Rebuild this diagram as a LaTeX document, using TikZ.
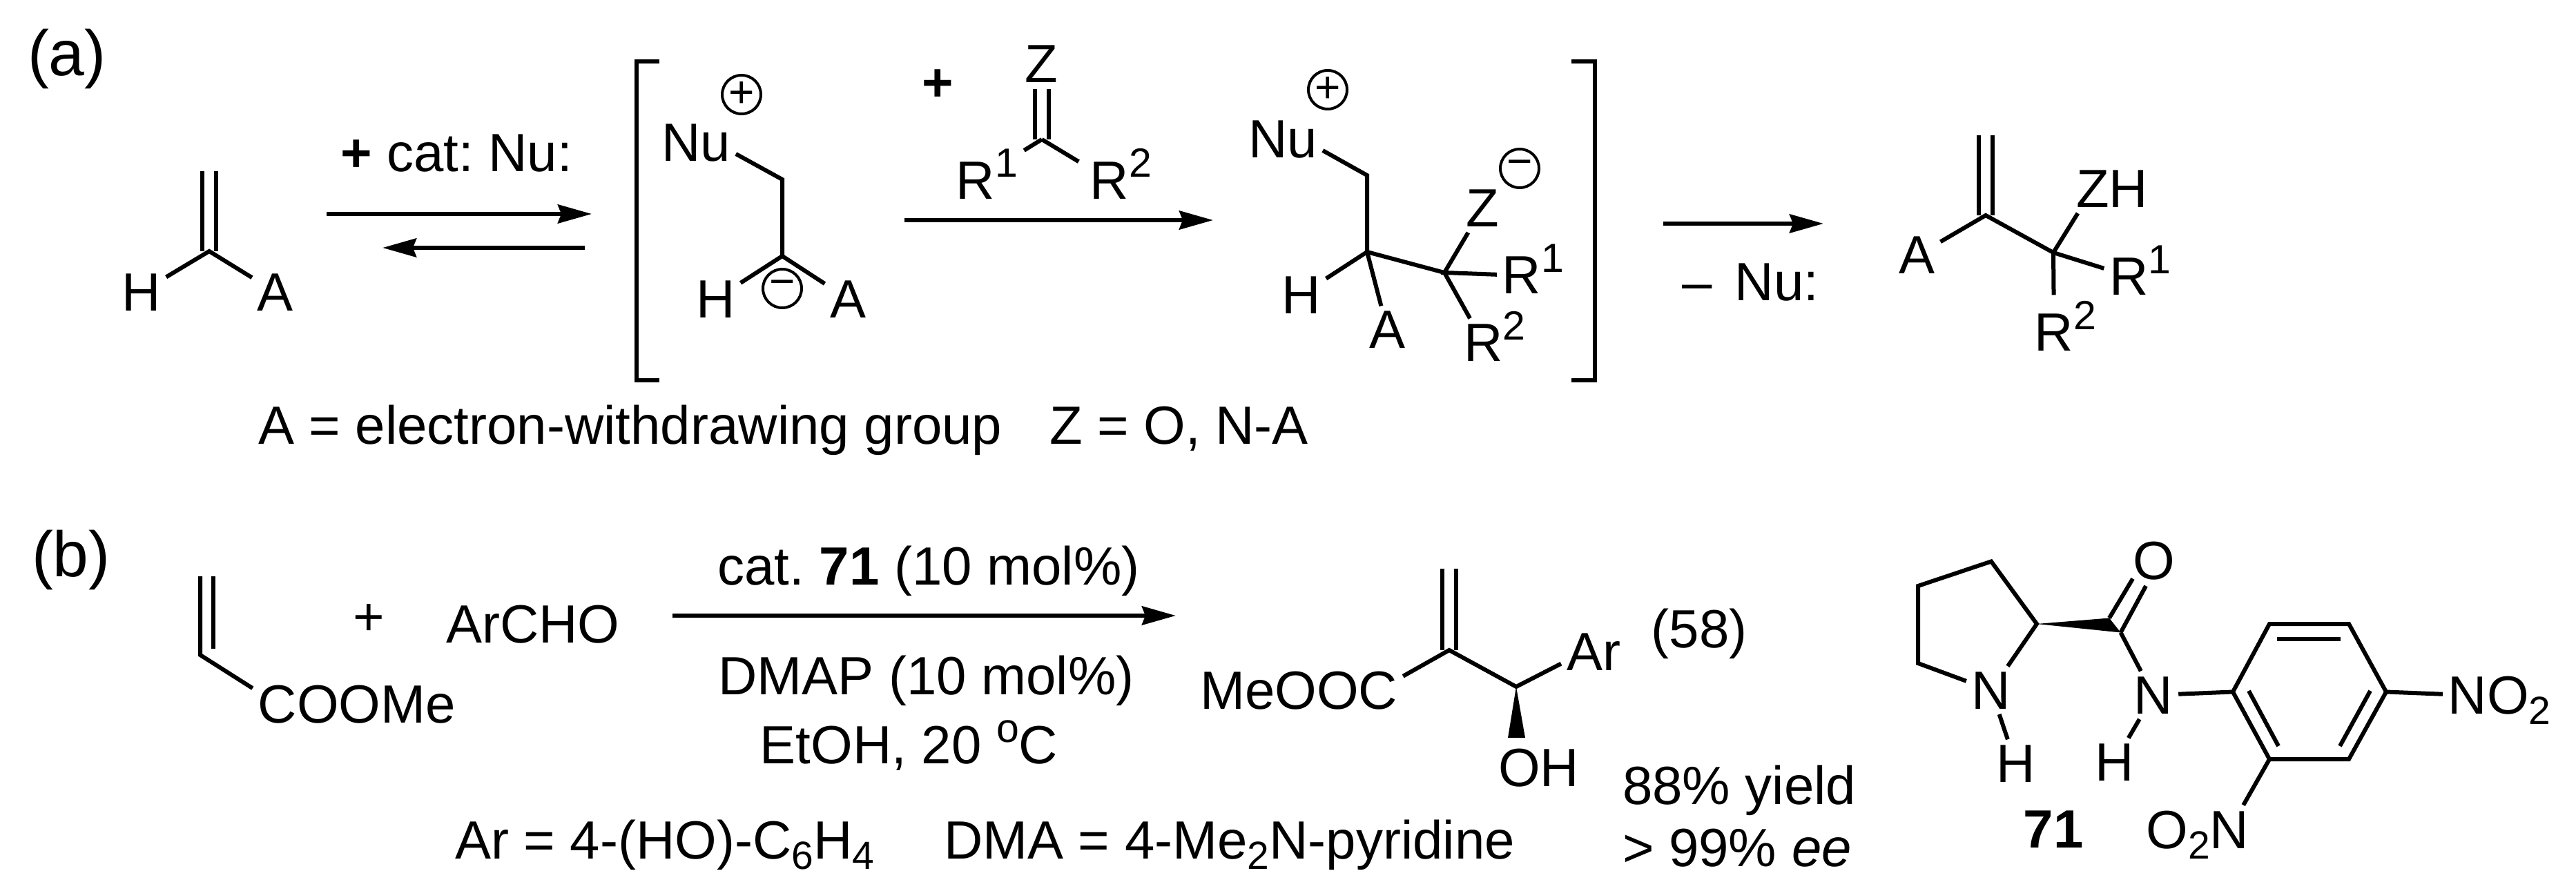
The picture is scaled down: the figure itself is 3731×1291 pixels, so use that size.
\documentclass[tikz,border=0pt]{standalone}
\usepackage{fontspec}
\setmainfont{Liberation Sans}
\usetikzlibrary{arrows.meta}
\def\chemfont{\frenchspacing\fontsize{15.6pt}{18pt}\selectfont}
\def\tagfont{\fontsize{18.6pt}{22pt}\selectfont}
\newcommand{\chemup}[1]{\raisebox{6.2pt}[0pt][0pt]{\fontsize{11.8pt}{12pt}\selectfont #1}}
\newcommand{\chemdn}[1]{\raisebox{-3pt}[0pt][0pt]{\fontsize{11.4pt}{12pt}\selectfont #1}}
\tikzset{
    every node/.style={font=\chemfont},
    atom/.style={anchor=base,inner sep=1pt},
    note/.style={anchor=base west,inner sep=0pt},
    label/.style={anchor=base,inner sep=0pt},
    tag/.style={anchor=base west,inner sep=0pt,font=\tagfont},
    charge/.style={circle,draw,line width=.8pt,minimum size=11.2pt,inner sep=0pt,font=\fontsize{12.8pt}{13pt}\selectfont},
    rxn/.style={-{Stealth[length=9.8pt,width=5.4pt,inset=1pt]}},
}
\begin{document}
\begin{tikzpicture}[x=.2pt,y=-.2pt,line width=1.2pt]
    \useasboundingbox (0,0) rectangle (3731,1291);
    \node[tag] (taga) at (37,110) {(a)};
    \node[tag] (tagb) at (43,835) {(b)};

    \coordinate (c1) at (303,364);
    \coordinate (t1) at (303,248);
    \node[atom] (h1) at (204.5,450) {H};
    \node[atom] (a1) at (399,450) {A};
    \draw ([xshift=-2pt]t1) -- ([xshift=-2pt]c1);
    \draw ([xshift=2pt]t1) -- ([xshift=2pt]c1);
    \draw (h1) -- (c1) -- (a1);

    \node[note] (cat) at (490,248) {\textbf{+} cat: Nu:};
    \coordinate (eq1) at (473,310);
    \coordinate (eq2) at (857,310);
    \coordinate (eq3) at (847,359);
    \coordinate (eq4) at (554,359);
    \draw[rxn] (eq1) -- (eq2);
    \draw[rxn] (eq3) -- (eq4);

    \draw (955,89) -- (922,89) -- (922,551) -- (955,551);
    \node[atom] (nu2) at (1008,234) {Nu};
    \node[atom] (h2) at (1036.5,460) {H};
    \node[atom] (a2) at (1228.5,460) {A};
    \coordinate (c2a) at (1133,260);
    \coordinate (c2b) at (1133,371);
    \draw (nu2.-15) -- (c2a) -- (c2b);
    \draw (h2) -- (c2b) -- (a2);
    \node[charge] (pl2) at (1074,137) {+};
    \node[charge] (mi2) at (1133,418) {−};

    \node (plus) at (1358,124) {\textbf{+}};
    \node[atom] (z1) at (1508,120) {Z};
    \node[atom] (r1a) at (1413,288) {R\rlap{\chemup{1}}};
    \node[atom] (r2a) at (1607,288) {R\rlap{\chemup{2}}};
    \coordinate (c3) at (1509,202);
    \coordinate (c3t) at (1509,129);
    \draw ([xshift=-2pt]c3t) -- ([xshift=-2pt]c3);
    \draw ([xshift=2pt]c3t) -- ([xshift=2pt]c3);
    \draw[shorten >=8pt] (c3) -- (r1a);
    \draw[shorten >=2pt] (c3) -- (r2a);
    \coordinate (ad1) at (1310,319);
    \coordinate (ad2) at (1757,319);
    \draw[rxn] (ad1) -- (ad2);

    \node[atom] (nu4) at (1858,229) {Nu};
    \node[atom] (h4) at (1884.5,454) {H};
    \node[atom] (a4) at (2009.5,505) {A};
    \node[atom] (z4) at (2147,329) {Z};
    \node[atom] (r1b) at (2204,426) {R\rlap{\chemup{1}}};
    \node[atom] (r2b) at (2148.5,523) {R\rlap{\chemup{2}}};
    \coordinate (c4a) at (1980,254);
    \coordinate (c4b) at (1980,365);
    \coordinate (c4c) at (2092,395);
    \draw (nu4.-15) -- (c4a) -- (c4b) -- (c4c);
    \draw (h4) -- (c4b) -- (a4);
    \draw (z4) -- (c4c) -- (r1b);
    \draw (c4c) -- (r2b);
    \node[charge] (pl4) at (1923,130) {+};
    \node[charge] (mi4) at (2201,244) {−};
    \draw (2276,89) -- (2310,89) -- (2310,551) -- (2276,551);

    \node[note] (gpa) at (371,643) {A = electron-withdrawing group};
    \node[note] (gpz) at (1517,643) {Z = O, N-A};

    \coordinate (el1) at (2409,324);
    \coordinate (el2) at (2641,324);
    \draw[rxn] (el1) -- (el2);
    \node[note] (lose) at (2433,435) {–\kern.15em\ Nu:};

    \node[atom] (a5) at (2776.5,397) {A};
    \node[atom] (z5) at (3031,301) {Z\rlap{H}};
    \node[atom] (r1c) at (3083.5,427) {R\rlap{\chemup{1}}};
    \node[atom] (r2c) at (2975,509) {R\rlap{\chemup{2}}};
    \coordinate (c5a) at (2876,312);
    \coordinate (c5t) at (2876,196);
    \coordinate (c5b) at (2974,366);
    \draw ([xshift=-2pt]c5t) -- ([xshift=-2pt]c5a);
    \draw ([xshift=2pt]c5t) -- ([xshift=2pt]c5a);
    \draw (a5) -- (c5a) -- (c5b) -- (z5);
    \draw (c5b) -- (r1c);
    \draw[shorten >=4pt] (c5b) -- (r2c);

    \coordinate (ac1) at (290,835);
    \coordinate (ac2) at (290,949);
    \coordinate (ac3) at (309,835);
    \coordinate (ac4) at (309,940);
    \node[atom] (coome) at (402,1047) {C\rlap{OOMe}};
    \draw (ac1) -- (ac2) -- (coome);
    \draw (ac3) -- (ac4);
    \node (plusb) at (534,898) {+};
    \node[label] (archo) at (772,931) {ArCHO};
    \coordinate (ar1) at (974,892);
    \coordinate (ar2) at (1703,892);
    \draw[rxn] (ar1) -- (ar2);
    \node[label] (catb) at (1345,847) {cat. \textbf{71} (10 mol\%)};
    \node[label] (dmap) at (1341.5,1006) {DMAP (10 mol\%)};
    \node[label] (etoh) at (1316.5,1106) {EtOH, 20 \chemup{o}C};
    \node[note] (arx) at (656,1244) {Ar = 4-(HO)-C\chemdn{6}H\chemdn{4}};
    \node[note] (dma) at (1364,1244) {DMA = 4-Me\chemdn{2}N-pyridine};

    \coordinate (p1) at (2099,942);
    \coordinate (p1t) at (2099,824);
    \coordinate (p2) at (2196,995);
    \coordinate (wl) at (2184,1069);
    \coordinate (wr) at (2209,1069);
    \node[atom] (meo) at (1996,1027) {\llap{MeOO}C};
    \node[atom] (ar) at (2295,971) {A\rlap{r}};
    \node[atom] (oh) at (2200.5,1139) {O\rlap{H}};
    \draw ([xshift=-2pt]p1t) -- ([xshift=-2pt]p1);
    \draw ([xshift=2pt]p1t) -- ([xshift=2pt]p1);
    \draw (meo) -- (p1) -- (p2) -- (ar);
    \fill (p2) -- (wl) -- (wr) -- cycle;
    \node[label] (eqn) at (2461,938) {(58)};
    \node[note] (yield) at (2347,1165) {88\% yield};
    \node[note] (ee) at (2347,1255) {> 99\% \textit{ee}};

    \coordinate (q1) at (2950,904);
    \coordinate (q2) at (2884,813.5);
    \coordinate (q3) at (2778,849);
    \coordinate (q4) at (2778,961);
    \coordinate (wa) at (3055,895.5);
    \coordinate (wb) at (3071.5,916.5);
    \coordinate (oa) at (3089,838.5);
    \coordinate (ob) at (3108,849);
    \node[atom] (na) at (2884,1027) {N};
    \node[atom] (ha) at (2919.5,1133) {H};
    \node[atom] (nb) at (3119,1034) {N};
    \node[atom] (hb) at (3062.5,1131) {H};
    \node[atom] (o71) at (3119.5,839) {O};
    \draw (na) -- (q1) -- (q2) -- (q3) -- (q4) -- (na);
    \draw (na) -- (ha);
    \fill (q1) -- (wa) -- (wb) -- cycle;
    \draw (wa) -- (oa);
    \draw (wb) -- (ob);
    \draw (wb) -- (nb);
    \draw (nb) -- (hb);
    \coordinate (r1) at (3234,1002.5);
    \coordinate (r2) at (3287,904);
    \coordinate (r3) at (3402,904);
    \coordinate (r4) at (3456,1002.5);
    \coordinate (r5) at (3402,1100);
    \coordinate (r6) at (3287,1100);
    \draw (r1) -- (r2) -- (r3) -- (r4) -- (r5) -- (r6) -- cycle;
    \coordinate (i1) at (3298,926);
    \coordinate (i2) at (3390,926);
    \coordinate (i3) at (3257,1001);
    \coordinate (i4) at (3300,1081);
    \coordinate (i5) at (3433,1001);
    \coordinate (i6) at (3389,1081);
    \draw (i1) -- (i2);
    \draw (i3) -- (i4);
    \draw (i5) -- (i6);
    \draw (nb) -- (r1);
    \node[atom] (no) at (3574,1034) {N\rlap{O\chemdn{2}}};
    \node[atom] (on) at (3229,1229) {\llap{O\chemdn{2}}N};
    \draw (r4) -- (no);
    \draw (r6) -- (on);
    \node[label] (cpd) at (2974,1228) {\textbf{71}};
\end{tikzpicture}
\end{document}
